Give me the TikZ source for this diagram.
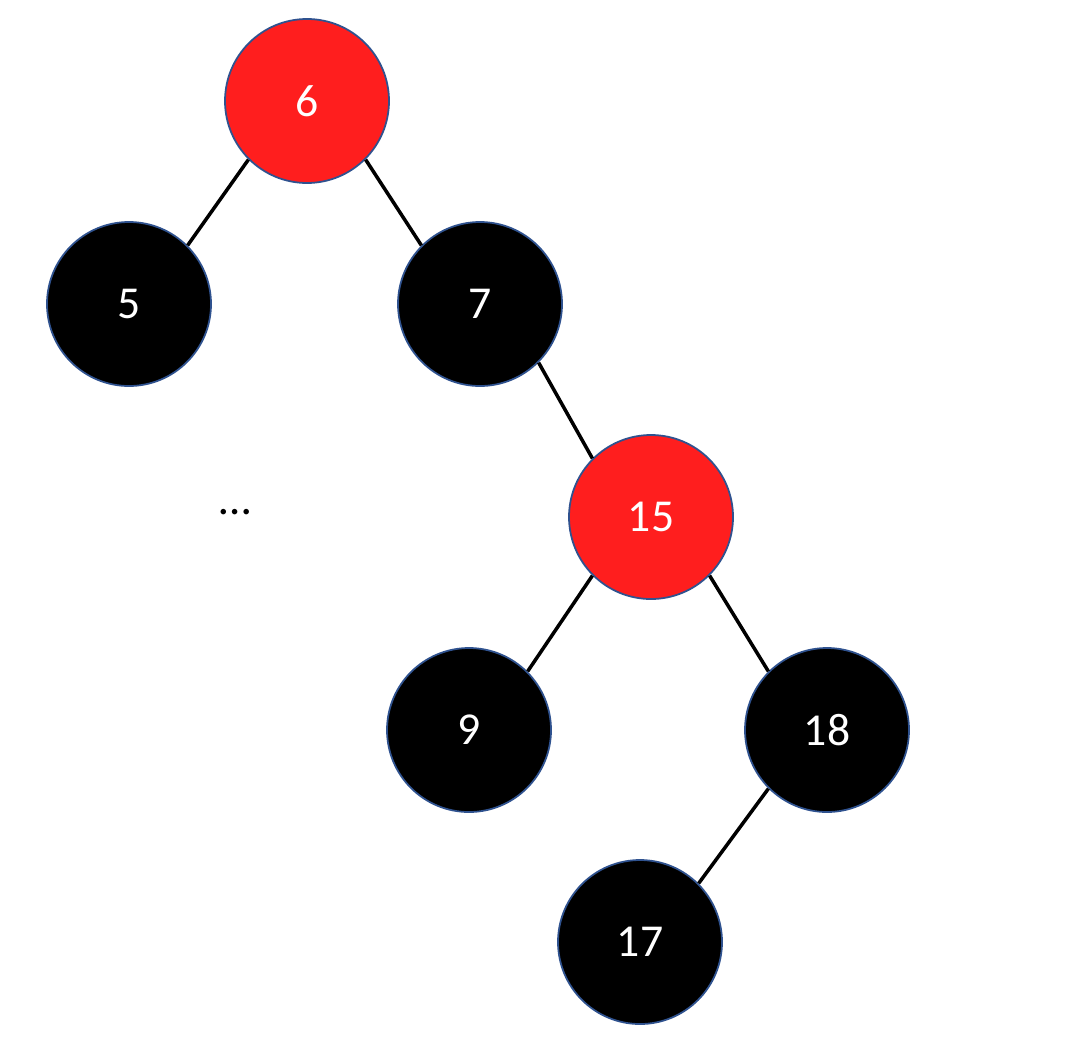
\documentclass[tikz,border=0pt]{standalone}
\usepackage{fontspec}
\setmainfont{Carlito}
\usepackage{tikz}

\definecolor{rbred}{HTML}{FF1E1E}
\definecolor{rbedge}{HTML}{2F528F}

\tikzset{
  rbnode/.style={circle, minimum size=1.64cm, inner sep=0pt, draw=rbedge,
    line width=0.5pt, text=white, font=\fontsize{13}{15}\selectfont},
  rednode/.style={rbnode, fill=rbred},
  blacknode/.style={rbnode, fill=black},
  link/.style={line width=1pt}
}

\begin{document}
\begin{tikzpicture}
  \useasboundingbox (0,0) rectangle (10.78,10.58);
  % tree nodes
  \node[rednode]   (n6)  at (3.07,9.57) {6};
  \node[blacknode] (n5)  at (1.29,7.54) {5};
  \node[blacknode] (n7)  at (4.80,7.54) {7};
  \node[rednode]   (n15) at (6.51,5.41) {15};
  \node[blacknode] (n9)  at (4.69,3.28) {9};
  \node[blacknode] (n18) at (8.27,3.28) {18};
  \node[blacknode] (n17) at (6.40,1.16) {17};
  \node[font=\fontsize{13}{15}\selectfont] (more) at (2.35,5.46) {…};
  % links
  \draw[link] (n6.south west) -- (n5.north east);
  \draw[link] (n6.south east) -- (n7.north west);
  \draw[link] (n7.south east) -- (n15.north west);
  \draw[link] (n15.south west) -- (n9.north east);
  \draw[link] (n15.south east) -- (n18.north west);
  \draw[link] (n18.south west) -- (n17.north east);
\end{tikzpicture}
\end{document}
